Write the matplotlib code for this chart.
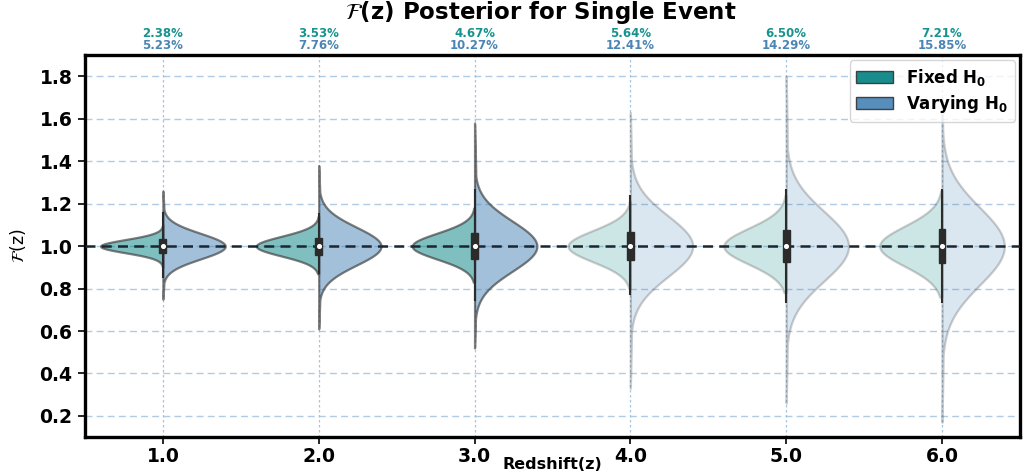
import numpy as np
import matplotlib
matplotlib.use('Agg')
import matplotlib.pyplot as plt
from matplotlib.colors import to_rgba
from matplotlib.patches import Patch, Rectangle

#values
redshift = [1.0, 2.0, 3.0, 4.0, 5.0, 6.0]
fixed_pct = [2.38, 3.53, 4.67, 5.64, 6.50, 7.21]
varying_pct = [5.23, 7.76, 10.27, 12.41, 14.29, 15.85]
fixed_lo = [0.90, 0.87, 0.83, 0.80, 0.78, 0.76]
fixed_hi = [1.10, 1.14, 1.18, 1.21, 1.24, 1.26]
varying_lo = [0.75, 0.61, 0.52, 0.33, 0.26, 0.17]
varying_hi = [1.26, 1.38, 1.58, 1.63, 1.80, 1.70]
box_q1 = [0.97, 0.96, 0.94, 0.935, 0.925, 0.92]
box_q3 = [1.035, 1.04, 1.06, 1.065, 1.075, 1.08]
median = [1.0, 1.0, 1.0, 1.0, 1.0, 1.0]
whisk_lo = [0.85, 0.87, 0.74, 0.77, 0.73, 0.73]
whisk_hi = [1.16, 1.155, 1.27, 1.24, 1.27, 1.27]
faded = [False, False, False, True, True, True]

fixed_color = '#008080'
varying_color = '#4682b4'


def half_violin(ax, x, sigma, lo, hi, side, color, alpha, edge_alpha, spread):
    #width profile: gaussian core + thin tail out to the data ends
    y = np.linspace(lo, hi, 500)
    core = np.exp(-0.5 * ((y - 1.0) / (spread * sigma)) ** 2)
    ext = np.where(y >= 1.0, hi - 1.0, 1.0 - lo)
    tail = 0.03 * np.clip(1 - ((y - 1.0) / ext) ** 2, 0, None)
    w = 0.4 * np.maximum(core, tail)
    ax.fill_betweenx(y, x, x + side * w,
                     facecolor=to_rgba(color, alpha),
                     edgecolor=to_rgba('#3a3a3a', edge_alpha),
                     linewidth=1.6, zorder=2)


def draw_box(ax, x, q1, q3, med, lo, hi):
    ax.vlines(x, lo, hi, color='#2b2b2b', linewidth=1.5, zorder=4)
    ax.add_patch(Rectangle((x - 0.022, q1), 0.044, q3 - q1,
                           facecolor='#2b2b2b', edgecolor='#2b2b2b', zorder=4))
    ax.scatter([x], [med], s=7, color='white', zorder=5)


def main():
    fig = plt.figure(figsize=(10.24, 4.72), dpi=100)
    ax = fig.add_axes([0.083, 0.074, 0.913, 0.809])

    for i, z in enumerate(redshift):
        a_face, a_edge = (0.2, 0.25) if faded[i] else (0.5, 0.65)
        half_violin(ax, z, fixed_pct[i] / 100, fixed_lo[i], fixed_hi[i], -1,
                    fixed_color, a_face, a_edge, 1.3)
        half_violin(ax, z, varying_pct[i] / 100, varying_lo[i], varying_hi[i], 1,
                    varying_color, a_face, a_edge, 1.15)
        draw_box(ax, z, box_q1[i], box_q3[i], median[i], whisk_lo[i], whisk_hi[i])

        #percent labels above the axes
        tr = ax.get_xaxis_transform()
        ax.text(z, 1.057, f'{fixed_pct[i]:.2f}%', transform=tr, ha='center', va='center',
                color='#17938e', fontsize=8.5, fontweight='bold', clip_on=False)
        ax.text(z, 1.026, f'{varying_pct[i]:.2f}%', transform=tr, ha='center', va='center',
                color='#4a86b5', fontsize=8.5, fontweight='bold', clip_on=False)

    ax.axhline(1.0, color='#1c2630', linewidth=1.8, linestyle=(0, (4, 2.5)), zorder=3)

    ax.set_xlim(0.5, 6.5)
    ax.set_ylim(0.1, 1.9)
    ax.set_xticks(redshift)
    ax.set_xticklabels([f'{z:.1f}' for z in redshift])
    ax.set_yticks(np.arange(0.2, 1.81, 0.2))
    ax.set_yticklabels([f'{v:.1f}' for v in np.arange(0.2, 1.81, 0.2)])

    #grid
    ax.yaxis.grid(True, color='#9dbfdc', alpha=0.8, linewidth=1.0, linestyle=(0, (5, 3)), zorder=0)
    ax.xaxis.grid(True, color='#9dbfdc', alpha=0.9, linewidth=0.9, linestyle=(0, (2, 2)), zorder=0)
    ax.set_axisbelow(True)

    for s in ax.spines.values():
        s.set_linewidth(2.4)
        s.set_color('black')
    ax.tick_params(axis='both', length=5, width=1.2, labelsize=13.5)
    ax.tick_params(axis='x', pad=2)
    ax.tick_params(axis='y', pad=4)
    for lab in ax.get_xticklabels() + ax.get_yticklabels():
        lab.set_fontweight('bold')

    ax.set_ylabel(r'$\mathcal{F}$(z)', fontsize=12.5, labelpad=8)
    ax.set_xlabel('Redshift(z)', fontsize=11.5, fontweight='bold')
    ax.xaxis.set_label_coords(0.5, -0.052)

    fig.text(0.528, 1 - 13 / 472, r'$\mathbf{\mathcal{F}}$(z) Posterior for Single Event',
             ha='center', va='center', fontsize=16.5, fontweight='bold')

    handles = [Patch(facecolor=fixed_color, edgecolor='#333333', alpha=0.9, label=r'Fixed $\mathbf{H_0}$'),
               Patch(facecolor=varying_color, edgecolor='#333333', alpha=0.9, label=r'Varying $\mathbf{H_0}$')]
    ax.legend(handles=handles, loc='upper right', prop={'weight': 'bold', 'size': 12},
              borderaxespad=0.3, handlelength=2.2, handleheight=0.7, labelspacing=0.3)

    fig.savefig('out.png', dpi=100)


if __name__ == '__main__':
    main()
